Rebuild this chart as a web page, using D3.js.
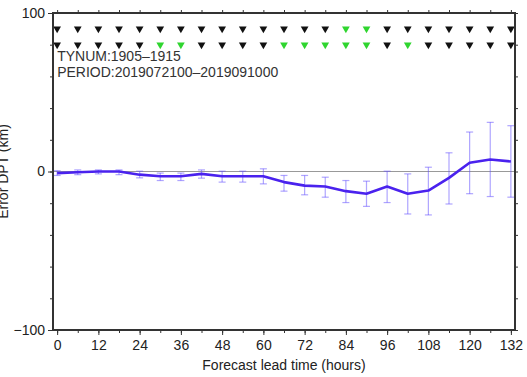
<!DOCTYPE html>
<html>
<head>
<meta charset="utf-8">
<script src="https://cdn.jsdelivr.net/npm/d3@7"></script>
<style>
    body { margin: 0; background: #fff; }
    text { font-family: "Liberation Sans", Arial, Helvetica, sans-serif; fill: #222; }
    .axis path, .axis line { stroke: #333; }
</style>
</head>
<body>
<svg id="chart" width="527" height="377"></svg>
<script>
// lead time (hours)
var hours = [0, 6, 12, 18, 24, 30, 36, 42, 48, 54, 60, 66, 72, 78, 84, 90, 96, 102, 108, 114, 120, 126, 132];
// mean error (km)
var meanErr = [-1, -0.5, 0, 0, -2, -3, -3, -1.5, -3, -3, -3, -6.7, -8.9, -9.5, -12.4, -14, -9.5, -14, -12, -4, 5.5, 7.6, 6.3];
// error bar top / bottom
var errTop = [0.5, 1, 1, 1, 0.2, -1, -1, 1, 0.2, 0.2, 1.7, -2.5, -2.5, -3.6, -5.7, -6.1, 0.2, -1.5, 2.7, 11.8, 24.9, 31, 28.9];
var errBot = [-2.5, -2, -1.5, -2, -4, -5.7, -5.7, -4.2, -6.7, -6.7, -7.8, -12.4, -14.7, -16.2, -19.6, -22, -19.6, -26.8, -27.4, -20.5, -14, -15.8, -16.2];
// marker rows: 1 = green, 0 = black
var row90 = [0, 0, 0, 0, 0, 0, 0, 0, 0, 0, 0, 0, 0, 0, 1, 1, 0, 0, 0, 0, 0, 0, 0];
var row80 = [0, 0, 0, 0, 0, 1, 1, 0, 0, 0, 0, 1, 1, 1, 1, 1, 0, 1, 0, 0, 0, 0, 0];
var xLabelTicks = [0, 12, 24, 36, 48, 60, 72, 84, 96, 108, 120, 132];
var yLabelTicks = [-100, 0, 100];
var infoText = ["TYNUM:1905\u20131915", "PERIOD:2019072100\u20132019091000"];

var _svg = d3.select("#chart");
var _left = 53, _right = 515, _top = 13, _bottom = 330;

var x = d3.scaleLinear().domain([-1.2, 133.2]).range([_left, _right]);
var y = d3.scaleLinear().domain([-100, 100]).range([_bottom, _top]);

var minorX = d3.range(0, 133, 6);
var minorY = d3.range(-100, 101, 20);

// zero line
_svg.append("line")
    .attr("x1", _left).attr("x2", _right)
    .attr("y1", y(0)).attr("y2", y(0))
    .attr("stroke", "#999").attr("stroke-width", 1.2);

// error bars
var bars = _svg.append("g").attr("stroke", "rgba(95,75,255,0.5)").attr("stroke-width", 1.2);
hours.forEach(function (h, i) {
    bars.append("line")
        .attr("x1", x(h)).attr("x2", x(h))
        .attr("y1", y(errTop[i])).attr("y2", y(errBot[i]));
    bars.append("line")
        .attr("x1", x(h) - 3.5).attr("x2", x(h) + 3.5)
        .attr("y1", y(errTop[i])).attr("y2", y(errTop[i]));
    bars.append("line")
        .attr("x1", x(h) - 3.5).attr("x2", x(h) + 3.5)
        .attr("y1", y(errBot[i])).attr("y2", y(errBot[i]));
});

// mean error line
var line = d3.line()
    .x(function (d, i) { return x(hours[i]); })
    .y(function (d) { return y(d); });
_svg.append("path")
    .datum(meanErr)
    .attr("d", line)
    .attr("fill", "none")
    .attr("stroke", "#4a22ee")
    .attr("stroke-width", 2.6)
    .attr("stroke-linejoin", "round");

// triangle rows
var tri = d3.symbol().type(d3.symbolTriangle).size(26);
[[90, row90], [80, row80]].forEach(function (r) {
    _svg.append("g").selectAll("path")
        .data(r[1])
        .enter()
        .append("path")
        .attr("d", tri)
        .attr("transform", function (d, i) { return "translate(" + x(hours[i]) + "," + y(r[0]) + ") rotate(180)"; })
        .attr("fill", function (d) { return d ? "#2fd52f" : "#111"; });
});

// info text
_svg.selectAll("text.info")
    .data(infoText)
    .enter()
    .append("text")
    .classed("info", true)
    .attr("x", x(0))
    .attr("y", function (d, i) { return 61 + i * 16; })
    .style("font-size", "14px")
    .style("fill", "#333")
    .text(function (d) { return d; });

// axes: minor ticks first, then labelled
function addAxis(axis, tx, ty) {
    var g = _svg.append("g").classed("axis", true)
        .attr("transform", "translate(" + tx + "," + ty + ")")
        .call(axis);
    g.select(".domain").remove();
    g.selectAll("text").style("font-size", "14px").style("fill", "#222").attr("font-family", null);
    return g;
}
addAxis(d3.axisBottom(x).tickValues(minorX).tickSize(3).tickFormat(""), 0, _bottom);
addAxis(d3.axisBottom(x).tickValues(xLabelTicks).tickSize(5).tickPadding(5), 0, _bottom);
addAxis(d3.axisTop(x).tickValues(minorX).tickSize(3).tickFormat(""), 0, _top);
addAxis(d3.axisLeft(y).tickValues(minorY).tickSize(3).tickFormat(""), _left, 0);
addAxis(d3.axisLeft(y).tickValues(yLabelTicks).tickSize(5).tickPadding(3)
    .tickFormat(function (d) { return d < 0 ? "\u2212" + Math.abs(d) : d; }), _left, 0);
addAxis(d3.axisRight(y).tickValues(minorY).tickSize(3).tickFormat(""), _right, 0);

// frame
_svg.append("rect")
    .attr("x", _left).attr("y", _top)
    .attr("width", _right - _left).attr("height", _bottom - _top)
    .attr("fill", "none").attr("stroke", "#333").attr("stroke-width", 2);

// axis titles
_svg.append("text")
    .attr("x", (_left + _right) / 2).attr("y", 370)
    .attr("text-anchor", "middle")
    .style("font-size", "14px")
    .text("Forecast lead time (hours)");
_svg.append("text")
    .attr("transform", "translate(8," + y(0) + ") rotate(-90)")
    .attr("text-anchor", "middle")
    .style("font-size", "14px")
    .text("Error DPT (km)");
</script>
</body>
</html>
